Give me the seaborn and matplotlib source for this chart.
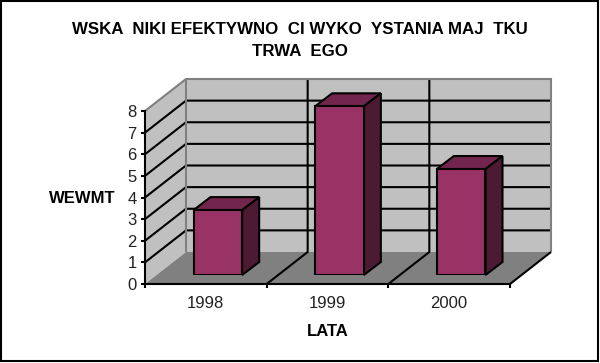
import matplotlib
matplotlib.use("Agg")
import matplotlib.pyplot as plt
import pandas as pd
import seaborn as sns
from matplotlib.patches import Polygon, Rectangle
from matplotlib.transforms import Affine2D, IdentityTransform

years = ["1998", "1999", "2000"]
wewmt = [3.0, 7.8, 4.9]
y_ticks = [0, 1, 2, 3, 4, 5, 6, 7, 8]
title_lines = ["WSKA  NIKI EFEKTYWNO  CI WYKO  YSTANIA MAJ  TKU", "TRWA  EGO"]
y_title = "WEWMT"
x_title = "LATA"

W, H = 600, 363
WALL = "#c0c0c0"
FLOOR = "#808080"
FRONT = "#993366"
TOP = "#73264d"
SIDE = "#4d1a33"
BACK_DX, BACK_DY = 41, 32   # depth of the box, pixels
BAR_DX, BAR_DY = 12, 9      # front of the bars from front of the box
BAR_DEPTH_X, BAR_DEPTH_Y = 17, 13
LW = 1.5

sns.set_theme(style="white")
plt.rcParams["font.family"] = ["Liberation Sans", "DejaVu Sans"]

fig = plt.figure(figsize=(W / 100, H / 100), dpi=100)
pixels = IdentityTransform()


def px_axes(left, bottom_y, width, height):
    return fig.add_axes([left / W, (H - bottom_y) / H, width / W, height / H])


# front plane of the box, carries ticks and labels
ax = px_axes(145, 284, 365, 173)
ax.patch.set_alpha(0)
df = pd.DataFrame({"rok": years, "wartosc": wewmt})

x0, x1 = -0.5, len(years) - 0.5
y0, y1 = y_ticks[0], y_ticks[-1]
ax.set_xlim(x0, x1)
ax.set_ylim(y0, y1)
back = ax.transData + Affine2D().translate(BACK_DX, BACK_DY)


def box_poly(points, closed=True, **kw):
    # points: (x, y, is_back), in data units, drawn in pixels
    pts = [back.transform((x, y)) if b else ax.transData.transform((x, y)) for x, y, b in points]
    fig.add_artist(Polygon(pts, closed=closed, transform=pixels, **kw))


def box_line(points, color, zorder):
    box_poly(points, closed=False, fill=False, ec=color, lw=LW, zorder=zorder)


box_poly([(x0, y0, 1), (x1, y0, 1), (x1, y1, 1), (x0, y1, 1)], fc=WALL, ec="none", zorder=-5)
box_poly([(x0, y0, 0), (x0, y0, 1), (x0, y1, 1), (x0, y1, 0)], fc=WALL, ec="none", zorder=-5)
box_poly([(x0, y0, 0), (x1, y0, 0), (x1, y0, 1), (x0, y0, 1)], fc=FLOOR, ec="none", zorder=-4)
for v in y_ticks[1:-1]:
    box_line([(x0, v, 0), (x0, v, 1), (x1, v, 1)], "black", -3)
for c in [x0 + 1, x0 + 2]:
    box_line([(c, y0, 0), (c, y0, 1), (c, y1, 1)], "black", -3)
# grey outline of the walls
box_line([(x0, y1, 0), (x0, y1, 1), (x1, y1, 1), (x1, y0, 1)], FLOOR, -2)
box_line([(x0, y0, 1), (x0, y1, 1)], FLOOR, -2)
box_line([(x1, y0, 0), (x1, y0, 1)], "black", -2)

ax.set_yticks(y_ticks)
ax.set_xticks(range(len(years)))
ax.set_xticklabels(years)
for s in ["top", "right"]:
    ax.spines[s].set_visible(False)
for s in ["left", "bottom"]:
    ax.spines[s].set_linewidth(LW)
    ax.spines[s].set_color("black")
# tick marks sit on the category edges, not under the labels
ax.set_xticks([x0, x0 + 1, x0 + 2, x1], minor=True)
ax.tick_params(axis="x", which="major", length=0, pad=9, labelsize=12, labelcolor="#222222")
ax.tick_params(axis="x", which="minor", length=3, width=LW, color="black", bottom=True)
ax.tick_params(axis="y", length=3, width=LW, color="black", left=True, pad=3, labelsize=12, labelcolor="#222222")
ax.set_xlabel(x_title, fontweight="bold", fontsize=12, color="black")
ax.xaxis.set_label_coords(0.5, -48 / 173, transform=ax.transAxes)
ax.xaxis.label.set_va("center")
ax.set_ylabel(y_title, fontweight="bold", fontsize=12, rotation=0, color="black", va="center")
ax.yaxis.set_label_coords(-0.173, 0.497)

# bars stand inside the box, so they get their own shifted axes
ax_bars = px_axes(145 + BAR_DX, 284 - BAR_DY, 365, 173)
ax_bars.patch.set_alpha(0)
sns.barplot(data=df, x="rok", y="wartosc", ax=ax_bars, color=FRONT, saturation=1, width=0.4,
            edgecolor="black", linewidth=LW)
ax_bars.set_xlim(x0, x1)
ax_bars.set_ylim(y0, y1)
ax_bars.axis("off")

for bar in ax_bars.patches:
    left, bottom = ax_bars.transData.transform((bar.get_x(), 0))
    right, top = ax_bars.transData.transform((bar.get_x() + bar.get_width(), bar.get_height()))
    top_face = [(left, top), (right, top), (right + BAR_DEPTH_X, top + BAR_DEPTH_Y), (left + BAR_DEPTH_X, top + BAR_DEPTH_Y)]
    side_face = [(right, bottom), (right + BAR_DEPTH_X, bottom + BAR_DEPTH_Y), (right + BAR_DEPTH_X, top + BAR_DEPTH_Y), (right, top)]
    fig.add_artist(Polygon(top_face, transform=pixels, fc=TOP, ec="black", lw=LW, zorder=-1))
    fig.add_artist(Polygon(side_face, transform=pixels, fc=SIDE, ec="black", lw=LW, zorder=-1))

fig.text(0.5, 1 - 29.5 / H, title_lines[0], ha="center", va="center", fontweight="bold", fontsize=12.2, color="black")
fig.text(0.5, 1 - 51 / H, title_lines[1], ha="center", va="center", fontweight="bold", fontsize=12.2, color="black")

# chart area frame
fig.add_artist(Rectangle((0.5 / W, 1 - 361 / H), 597 / W, 360.5 / H, transform=fig.transFigure,
                         fill=False, ec="black", lw=1.5))

fig.savefig("out.png", dpi=100)
